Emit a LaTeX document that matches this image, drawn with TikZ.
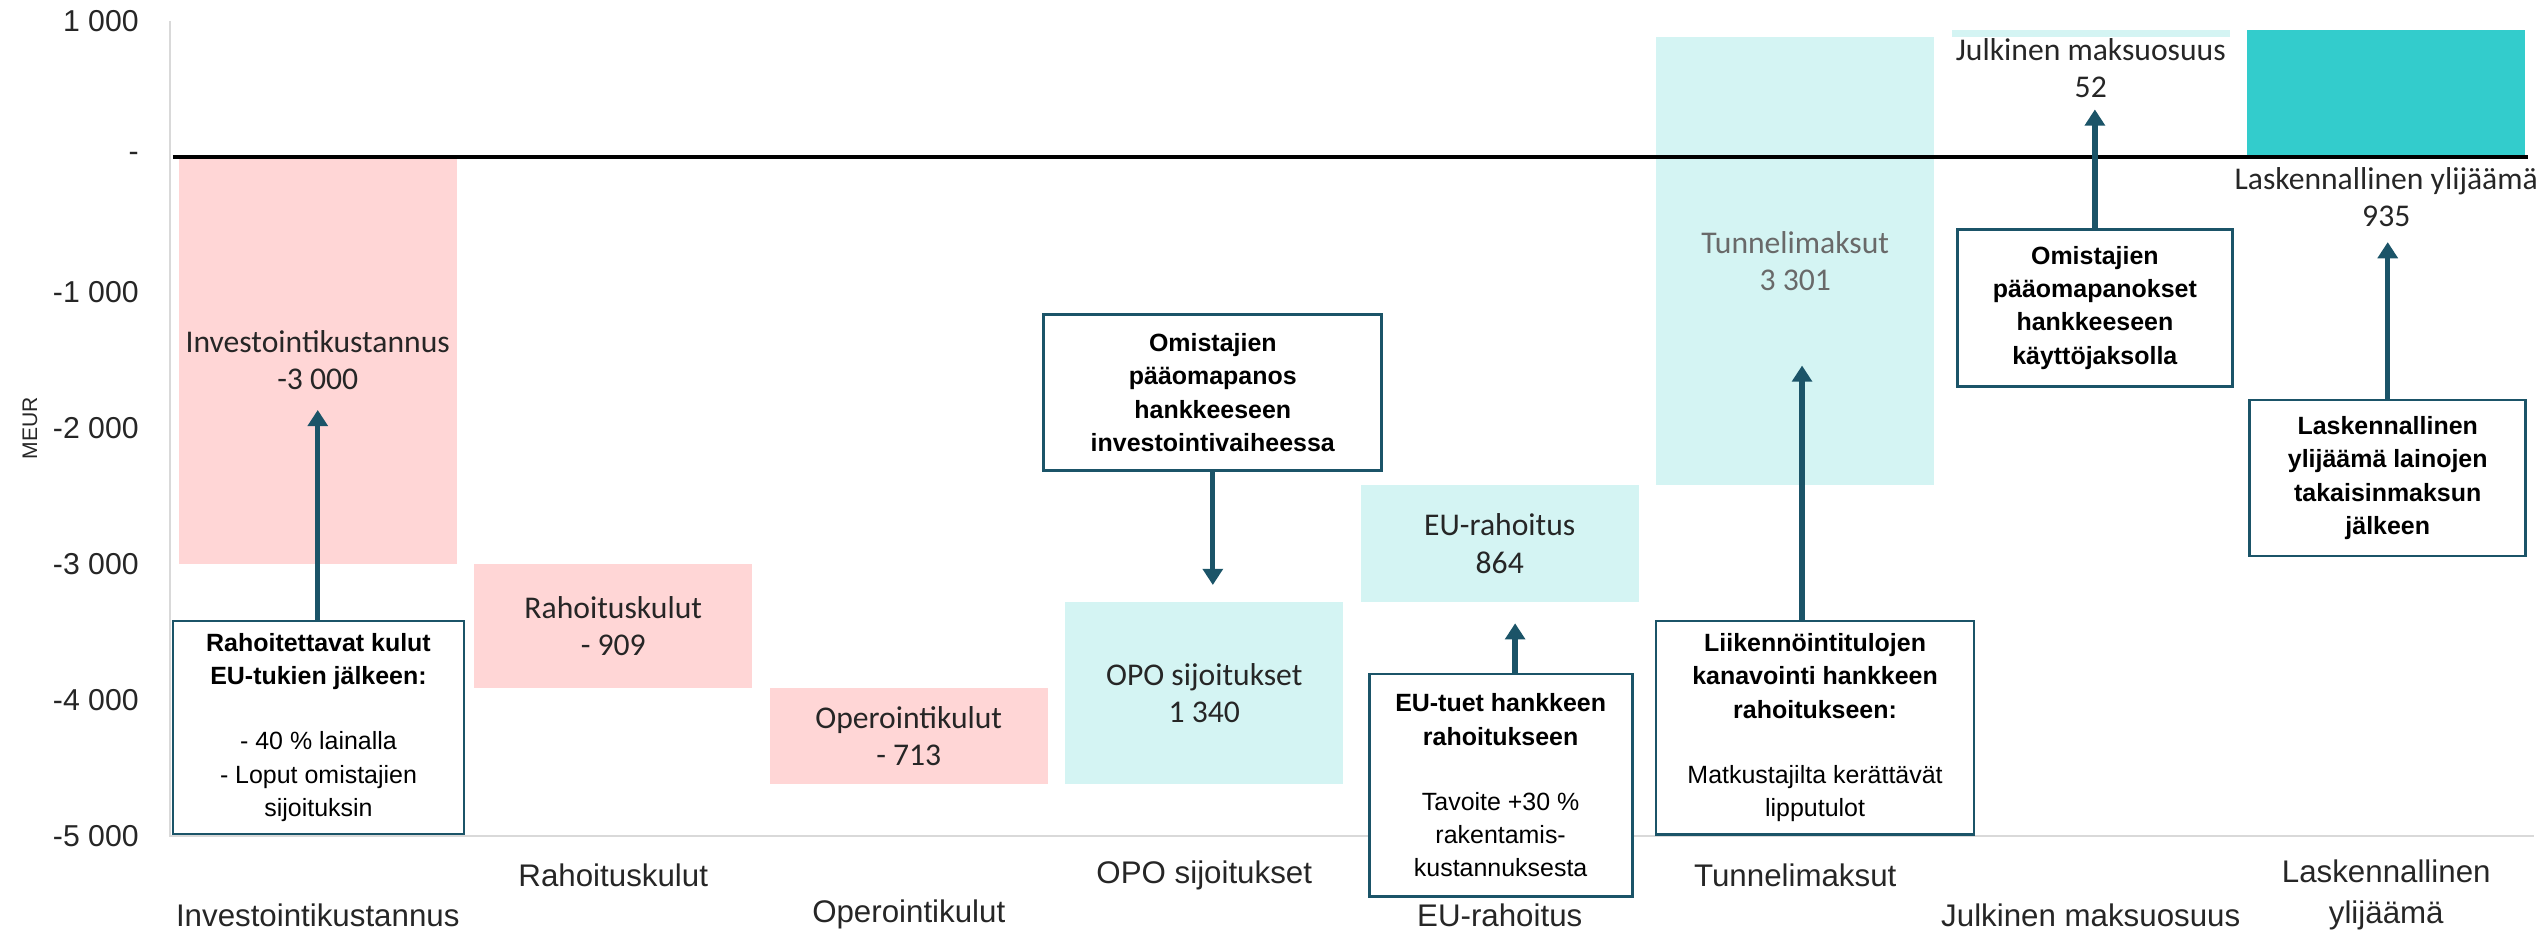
\documentclass[tikz,border=0pt]{standalone}
\usepackage{fontspec}
\setmainfont{Liberation Sans}
\newfontfamily\barfont{Carlito}
\usepackage{tikz}
\usetikzlibrary{arrows.meta}

\definecolor{costpink}{RGB}{255,214,214}
\definecolor{fundcyan}{RGB}{212,244,243}
\definecolor{surplusteal}{RGB}{51,204,204}
\definecolor{calloutblue}{RGB}{27,84,104}
\definecolor{gridgray}{RGB}{217,217,217}
\definecolor{labeltext}{RGB}{38,38,38}
\definecolor{mutedtext}{RGB}{105,105,105}

\begin{document}
\begin{tikzpicture}[
      x=2.955cm, y=1.358cm,
      cost/.style={fill=costpink},
      fund/.style={fill=fundcyan},
      barlabel/.style={font=\barfont\fontsize{9}{10.6}\selectfont, align=center, text=labeltext},
      catlabel/.style={font=\fontsize{8.9}{11.4}\selectfont, align=center, text=labeltext},
      ticklabel/.style={anchor=east, font=\fontsize{8.6}{10}\selectfont, text=labeltext},
      callout/.style={rectangle, draw=calloutblue, line width=0.8pt, fill=white, align=center, inner sep=0pt, font=\fontsize{7.1}{9.5}\selectfont},
      line/.style={draw=calloutblue, line width=1.5pt, -{Triangle[width=5.6pt,length=4.6pt]}}
   ]
   \useasboundingbox (-0.5753,-5.6944) rectangle (8.0271,1.1539);

   % Bars
   \fill [cost] (0.029,0) rectangle (0.971,-3);
   \fill [cost] (1.029,-3) rectangle (1.971,-3.909);
   \fill [cost] (2.029,-3.909) rectangle (2.971,-4.622);
   \fill [fund] (3.029,-4.622) rectangle (3.971,-3.282);
   \fill [fund] (4.029,-3.282) rectangle (4.971,-2.418);
   \fill [fund] (5.029,-2.418) rectangle (5.971,0.883);
   \fill [fund] (6.029,0.883) rectangle (6.971,0.935);
   \fill [surplusteal] (7.029,0.935) rectangle (7.971,0);

   % Axes
   \draw [gridgray, line width=0.6pt] (0,1) -- (0,-5) -- (8,-5);
   \draw [black, line width=1.1pt] (0.01,0) -- (7.98,0);

   % Tick labels
   \node [ticklabel] (t1) at (-0.064,1) {1~000};
   \node [ticklabel] (t0) at (-0.064,0) {-};
   \node [ticklabel] (tm1) at (-0.064,-1) {-1~000};
   \node [ticklabel] (tm2) at (-0.064,-2) {-2~000};
   \node [ticklabel] (tm3) at (-0.064,-3) {-3~000};
   \node [ticklabel] (tm4) at (-0.064,-4) {-4~000};
   \node [ticklabel] (tm5) at (-0.064,-5) {-5~000};
   \node [rotate=90, font=\fontsize{6}{7}\selectfont, text=labeltext] (meur) at (-0.474,-2) {MEUR};

   % Bar labels
   \node [barlabel] (invest) at (0.5,-1.5) {Investointikustannus\\-3~000};
   \node [barlabel] (rahoitus) at (1.5,-3.4545) {Rahoituskulut\\- 909};
   \node [barlabel] (operointi) at (2.5,-4.2655) {Operointikulut\\- 713};
   \node [barlabel] (opo) at (3.5,-3.952) {OPO sijoitukset\\1~340};
   \node [barlabel] (eu) at (4.5,-2.85) {EU-rahoitus\\864};
   \node [barlabel, text=mutedtext] (tunneli) at (5.5,-0.7675) {Tunnelimaksut\\3~301};
   \node [barlabel] (julkinen) at (6.5,0.653) {Julkinen maksuosuus\\52};
   \node [barlabel] (ylijaama) at (7.5,-0.297) {Laskennallinen ylijäämä\\935};

   % Category labels
   \node [catlabel] (c1) at (0.5,-5.583) {Investointikustannus};
   \node [catlabel] (c2) at (1.5,-5.289) {Rahoituskulut};
   \node [catlabel] (c3) at (2.5,-5.583) {Operointikulut};
   \node [catlabel] (c4) at (3.5,-5.289) {OPO sijoitukset};
   \node [catlabel] (c5) at (4.5,-5.583) {EU-rahoitus};
   \node [catlabel] (c6) at (5.5,-5.289) {Tunnelimaksut};
   \node [catlabel] (c7) at (6.5,-5.583) {Julkinen maksuosuus};
   \node [catlabel] (c8) at (7.5,-5.436) {Laskennallinen\\ylijäämä};

   % Callouts
   \node [callout, minimum width=2.91cm, minimum height=2.13cm] (boxA) at (0.5025,-4.203)
      {\textbf{Rahoitettavat kulut}\\\textbf{EU-tukien jälkeen:}\\[9pt]- 40 \% lainalla\\- Loput omistajien\\sijoituksin};
   \node [callout, minimum width=3.38cm, minimum height=1.56cm] (boxB) at (3.529,-1.738)
      {\textbf{Omistajien}\\\textbf{pääomapanos}\\\textbf{hankkeeseen}\\\textbf{investointivaiheessa}};
   \node [callout, minimum width=2.63cm, minimum height=2.227cm] (boxC) at (4.503,-4.629)
      {\textbf{EU-tuet hankkeen}\\\textbf{rahoitukseen}\\[9pt]Tavoite +30 \%\\rakentamis-\\kustannuksesta};
   \node [callout, minimum width=3.18cm, minimum height=2.135cm] (boxD) at (5.567,-4.205)
      {\textbf{Liikennöintitulojen}\\\textbf{kanavointi hankkeen}\\\textbf{rahoitukseen:}\\[9pt]Matkustajilta kerättävät\\lipputulot};
   \node [callout, minimum width=2.754cm, minimum height=1.567cm] (boxE) at (6.514,-1.113)
      {\textbf{Omistajien}\\\textbf{pääomapanokset}\\\textbf{hankkeeseen}\\\textbf{käyttöjaksolla}};
   \node [callout, minimum width=2.757cm, minimum height=1.559cm] (boxF) at (7.505,-2.366)
      {\textbf{Laskennallinen}\\\textbf{ylijäämä lainojen}\\\textbf{takaisinmaksun}\\\textbf{jälkeen}};

   % Arrow tips
   \coordinate (tipA) at (0.5,-1.865);
   \coordinate (tipB) at (3.529,-3.154);
   \coordinate (tipC) at (4.552,-3.436);
   \coordinate (tipD) at (5.523,-1.538);
   \coordinate (tipE) at (6.514,0.348);
   \coordinate (tipF) at (7.505,-0.629);

   % Arrows
   \path [line] (tipA |- boxA.north) -- (tipA);
   \path [line] (tipB |- boxB.south) -- (tipB);
   \path [line] (tipC |- boxC.north) -- (tipC);
   \path [line] (tipD |- boxD.north) -- (tipD);
   \path [line] (tipE |- boxE.north) -- (tipE);
   \path [line] (tipF |- boxF.north) -- (tipF);
\end{tikzpicture}
\end{document}
